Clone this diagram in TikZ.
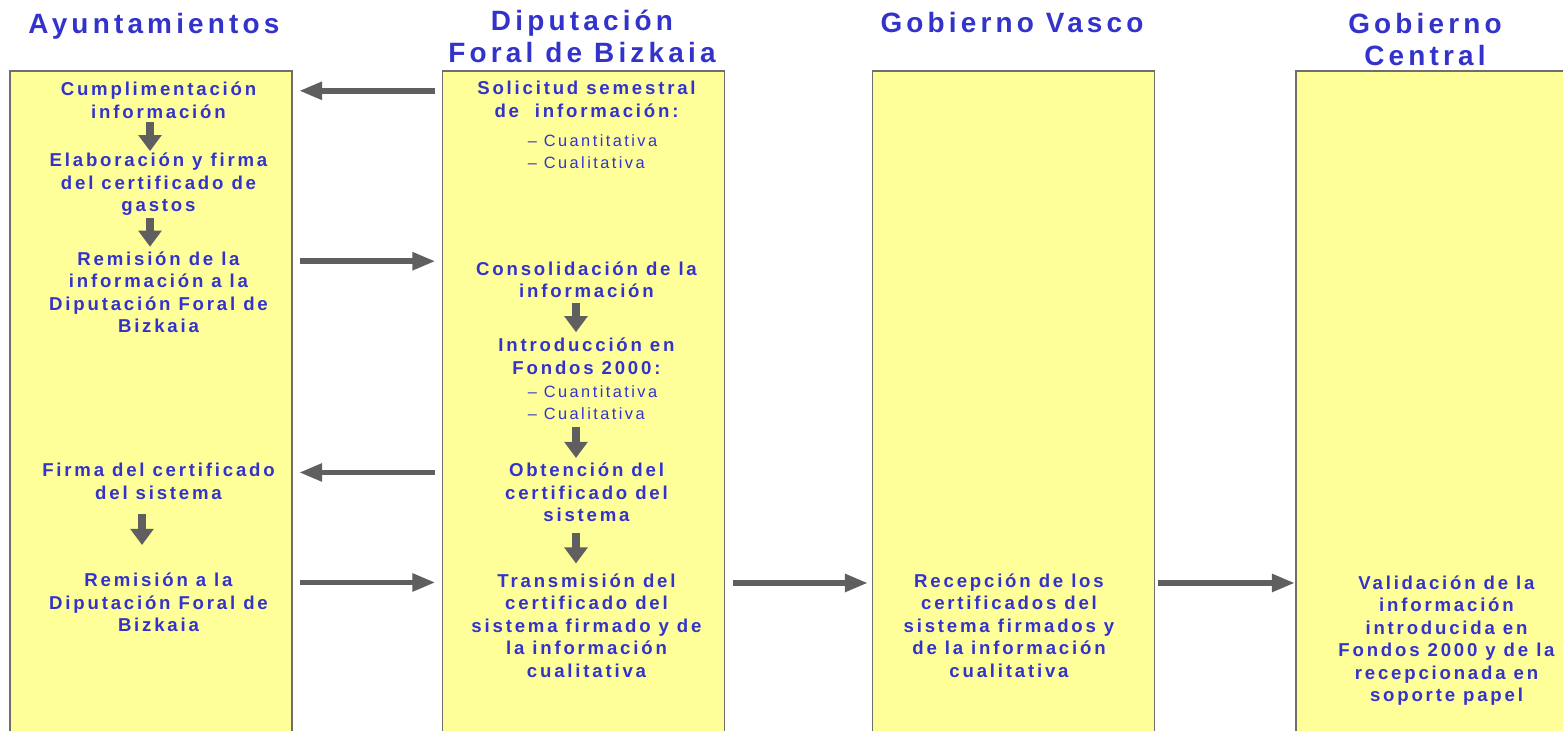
\documentclass[tikz,border=0pt]{standalone}
\usepackage{fontspec}
\usepackage{tikz}
\usetikzlibrary{arrows.meta}
\newfontfamily\lanefont[LetterSpace=15]{Liberation Sans}
\definecolor{laneyellow}{RGB}{255,255,153}
\definecolor{lanegray}{RGB}{110,110,110}
\definecolor{textblue}{RGB}{51,51,204}
\definecolor{arrowgray}{RGB}{95,95,95}
\tikzstyle{lane} = [rectangle, draw=lanegray, fill=laneyellow, line width=0.7pt,
    minimum width=5.64cm, minimum height=14cm, inner sep=0pt]
\tikzstyle{lanetitle} = [text=textblue, align=center, inner sep=0pt,
    font=\lanefont\bfseries\fontsize{15.9}{18.2}\selectfont]
\tikzstyle{task} = [text=textblue, align=center, inner sep=1pt,
    font=\lanefont\bfseries\fontsize{10.6}{12.8}\selectfont]
\tikzstyle{sublist} = [text=textblue, align=left, inner sep=1pt,
    font=\lanefont\fontsize{9.3}{12.6}\selectfont]
\tikzstyle{flow} = [draw=arrowgray, line width=0.11cm, shorten <=0.14cm, shorten >=0.13cm,
    -{Triangle[length=0.46cm, width=0.34cm]}]
\tikzstyle{vflow} = [draw=arrowgray, line width=0.15cm,
    -{Triangle[length=0.32cm, width=0.45cm]}]

\begin{document}
\begin{tikzpicture}[node distance = 2cm]
  \useasboundingbox (0,0) rectangle (31.26,-14.62);
  % lanes
  \node [lane] (ayu) at (3.02,-8.42) {};
  \node [lane, right of = ayu, node distance = 8.65cm] (dip) {};
  \node [lane, right of = dip, node distance = 8.6cm] (gv) {};
  \node [lane, right of = gv, node distance = 8.47cm] (gc) {};
  % titles
  \node [lanetitle] (tayu) at (3.08,-0.52) {Ayuntamientos};
  \node [lanetitle] (tdip) at (11.64,-0.72) {Diputación\\Foral de Bizkaia};
  \node [lanetitle] (tgv) at (20.24,-0.46) {Gobierno Vasco};
  \node [lanetitle] (tgc) at (28.5,-0.8) {Gobierno\\Central};
  % Ayuntamientos
  \node [task] (cump) at (3.17,-2.01) {Cumplimentación\\información};
  \node [task, below of = cump, node distance = 1.68cm] (elab) {Elaboración y firma\\del certificado de\\gastos};
  \node [task, below of = elab, node distance = 2.16cm] (remi) {Remisión de la\\información a la\\Diputación Foral de\\Bizkaia};
  \node [task, below of = remi, node distance = 3.78cm] (firma) {Firma del certificado\\del sistema};
  \node [task, below of = firma, node distance = 2.42cm] (remb) {Remisión a la\\Diputación Foral de\\Bizkaia};
  % Diputacion
  \node [task] (solic) at (11.73,-1.99) {Solicitud semestral\\de\ \ información:};
  \node [sublist, below of = solic, node distance = 1.04cm, xshift = 0.12cm] (solsub) {–\ Cuantitativa\\–\ Cualitativa};
  \node [task, below of = solic, node distance = 3.61cm] (conso) {Consolidación de la\\información};
  \node [task, below of = conso, node distance = 1.53cm] (intro) {Introducción en\\Fondos 2000:};
  \node [sublist, below of = intro, node distance = 0.92cm, xshift = 0.12cm] (introsub) {–\ Cuantitativa\\–\ Cualitativa};
  \node [task, below of = intro, node distance = 2.72cm] (obten) {Obtención del\\certificado del\\sistema};
  \node [task, below of = obten, node distance = 2.66cm] (trans) {Transmisión del\\certificado del\\sistema firmado y de\\la información\\cualitativa};
  % Gobierno Vasco / Central
  \node [task] (recep) at (20.18,-12.51) {Recepción de los\\certificados del\\sistema firmados y\\de la información\\cualitativa};
  \node [task] (valid) at (28.93,-12.81) {Validación de la\\información\\introducida en\\Fondos 2000 y de la\\recepcionada en\\soporte papel};
  % steps inside lanes
  \draw [vflow, shorten <=0.02cm] ([xshift=-0.17cm]cump.south) -- ([xshift=-0.17cm]elab.north);
  \draw [vflow, shorten <=0.0cm, shorten >=0.06cm] ([xshift=-0.17cm]elab.south) -- ([xshift=-0.17cm]remi.north);
  \draw [vflow, shorten <=0.24cm, shorten >=0.52cm] ([xshift=-0.33cm]firma.south) -- ([xshift=-0.33cm]remb.north);
  \draw [vflow, shorten <=0.06cm, shorten >=0.08cm] ([xshift=-0.21cm]conso.south) -- ([xshift=-0.21cm]intro.north);
  \draw [vflow, shorten <=0.1cm, shorten >=0.06cm] ([xshift=-0.33cm]introsub.south) -- ([xshift=-0.21cm]obten.north);
  \draw [vflow, shorten <=0.17cm, shorten >=0.16cm] ([xshift=-0.21cm]obten.south) -- ([xshift=-0.21cm]trans.north);
  % edges between lanes
  \draw [flow] ([yshift=-0.23cm]solic.north -| dip.west) -- ([yshift=-0.23cm]solic.north -| ayu.east);
  \draw [flow] ([yshift=-0.23cm]remi.north -| ayu.east) -- ([yshift=-0.23cm]remi.north -| dip.west);
  \draw [flow] ([yshift=-0.23cm]obten.north -| dip.west) -- ([yshift=-0.23cm]obten.north -| ayu.east);
  \draw [flow] ([yshift=-0.23cm]remb.north -| ayu.east) -- ([yshift=-0.23cm]remb.north -| dip.west);
  \draw [flow, shorten <=0.16cm, shorten >=0.08cm] ([yshift=-0.23cm]trans.north -| dip.east) -- ([yshift=-0.23cm]trans.north -| gv.west);
  \draw [flow, shorten <=0.06cm, shorten >=0.01cm] ([yshift=-0.23cm]recep.north -| gv.east) -- ([yshift=-0.23cm]recep.north -| gc.west);
\end{tikzpicture}
\end{document}
